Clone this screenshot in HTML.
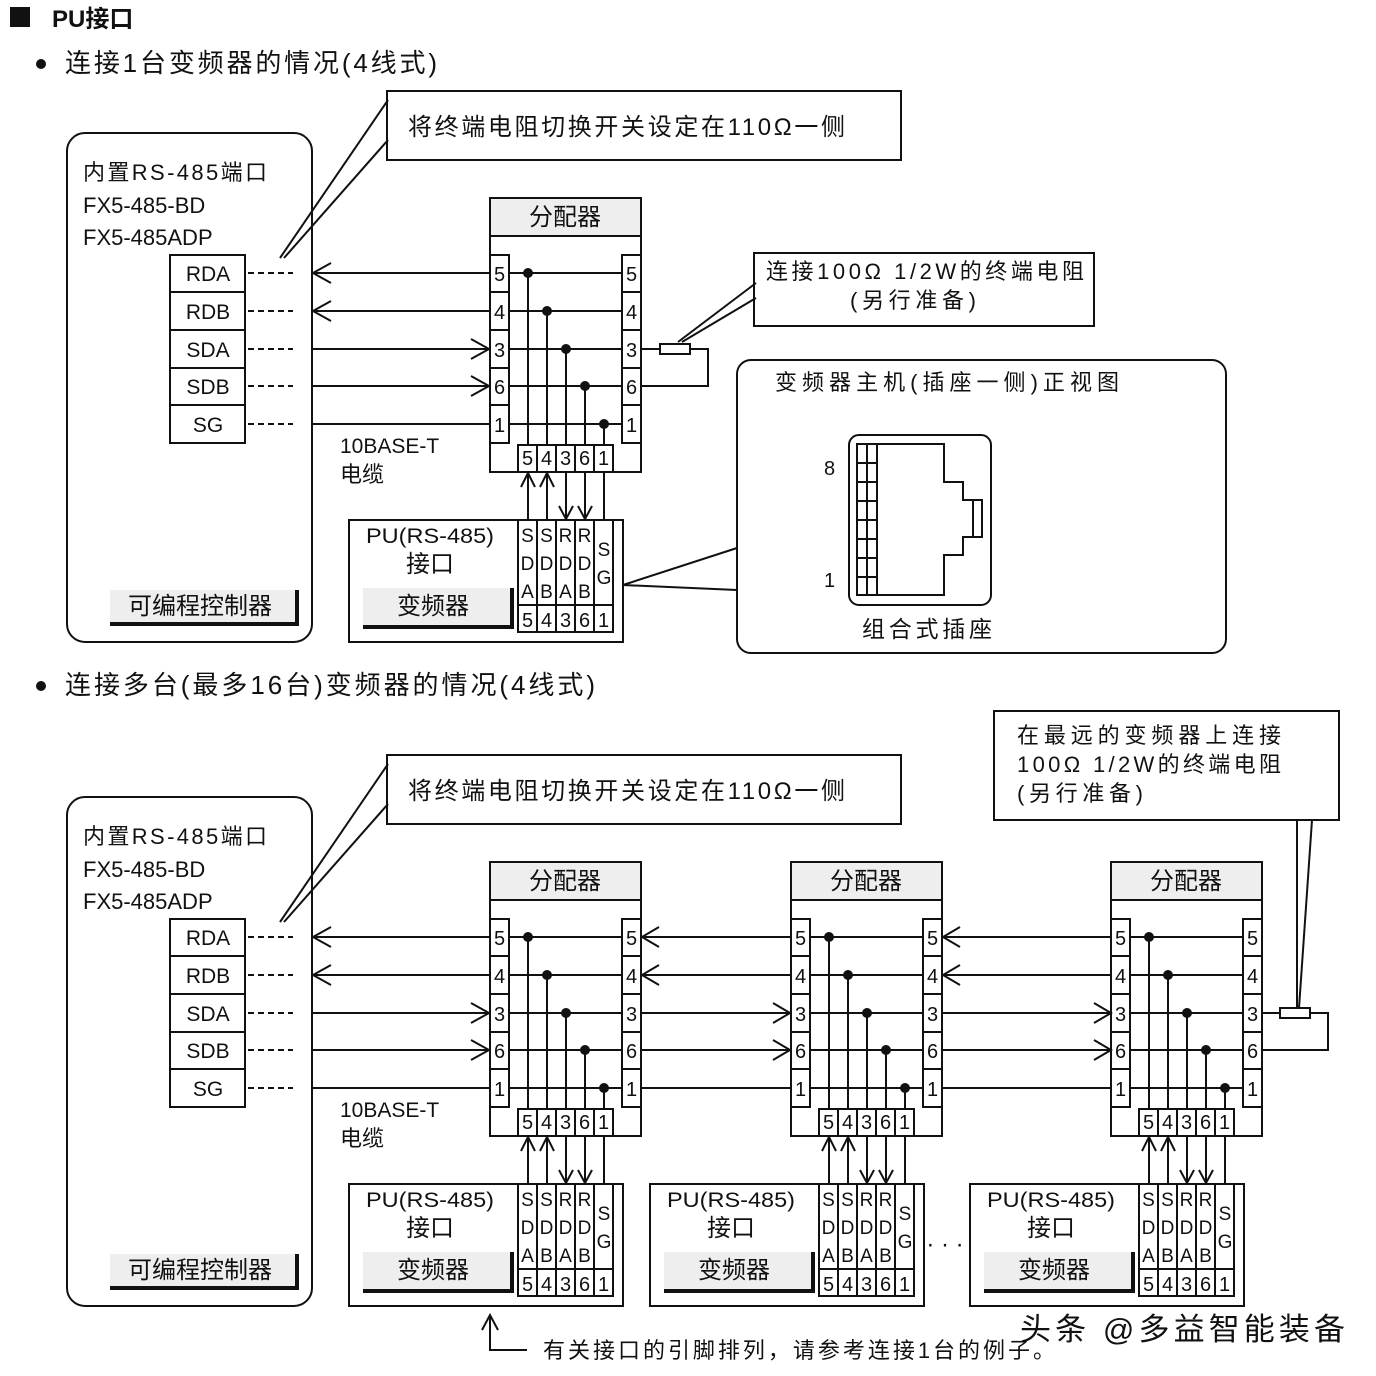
<!DOCTYPE html>
<html><head><meta charset="utf-8"><style>
html,body{margin:0;padding:0;background:#fff}
svg{display:block}
text{font-family:"Liberation Sans","Noto Sans CJK SC",sans-serif;fill:#111}
</style></head><body>
<svg width="1376" height="1376" viewBox="0 0 1376 1376" xmlns="http://www.w3.org/2000/svg" stroke="#111" stroke-width="2" fill="none">
<defs>
<g id="wires">
<line x1="312" y1="273" x2="490" y2="273"/><line x1="312" y1="311" x2="490" y2="311"/>
<line x1="312" y1="349" x2="490" y2="349"/><line x1="312" y1="386" x2="490" y2="386"/>
<line x1="312" y1="424" x2="490" y2="424"/>
<polyline points="331,263 313,273 331,283"/><polyline points="331,301 313,311 331,321"/>
<polyline points="471,339 489,349 471,359"/><polyline points="471,376 489,386 471,396"/>
</g>
<g id="distshape">
<rect x="0" y="0" width="151" height="274" fill="#fff"/>
<rect x="0" y="0" width="151" height="38" fill="#eee"/>
<rect x="0" y="57" width="19" height="188"/><rect x="132" y="57" width="19" height="188"/>
<path d="M0 94h19M0 132h19M0 170h19M0 207h19M132 94h19M132 132h19M132 170h19M132 207h19"/>
<path d="M19 75h113M19 113h113M19 151h113M19 188h113M19 226h113"/>
<path d="M38 75V247M57 113V247M76 151V247M95 188V247M114 226V247"/>
<rect x="28" y="247" width="95" height="27"/>
<path d="M47 247v27M66 247v27M85 247v27M104 247v27"/>
<g fill="#111" stroke="none">
<circle cx="38" cy="75" r="5"/><circle cx="57" cy="113" r="5"/><circle cx="76" cy="151" r="5"/><circle cx="95" cy="188" r="5"/><circle cx="114" cy="226" r="5"/></g>
</g>
<g id="pushape">
<rect x="0" y="0" width="274" height="122" fill="#fff"/>
<rect x="169" y="0" width="95" height="112"/>
<path d="M169 85h95M188 0v112M207 0v112M226 0v112M245 0v112"/>
<rect x="14" y="68" width="149" height="40" fill="#eee" stroke="none"/>
<path d="M14 107h151M163 68v41" stroke-width="4"/>
<path d="M179 -48V0M198 -48V0M217 -48V0M236 -48V0M255 -48V0"/>
<polyline points="172,-33 179,-47 186,-33"/><polyline points="191,-33 198,-47 205,-33"/>
<polyline points="210,-14 217,-1 224,-14"/><polyline points="229,-14 236,-1 243,-14"/>
</g>
<g id="plcshape">
<rect x="0" y="0" width="245" height="509" rx="18"/>
<rect x="103" y="122" width="75" height="188"/>
<path d="M103 159h75M103 197h75M103 235h75M103 272h75"/>
<path d="M181 140h45M181 178h45M181 216h45M181 253h45M181 291h45" stroke-dasharray="6,4"/>
<rect x="43" y="457" width="187" height="35" fill="#eee" stroke="none"/>
<path d="M43 491h189M230 457v35" stroke-width="4"/>
</g>
<g id="disttext" stroke="none">
<text x="565" y="225" text-anchor="middle" font-size="24">分配器</text>
<text x="499.5 499.5 499.5 499.5 499.5" y="281 319 357 394 432" text-anchor="middle" font-size="20">54361</text>
<text x="631.5 631.5 631.5 631.5 631.5" y="281 319 357 394 432" text-anchor="middle" font-size="20">54361</text>
<text x="527.5 546.5 565.5 584.5 603.5" y="465" text-anchor="middle" font-size="20">54361</text>
<text x="366" y="543" font-size="21" textLength="128" lengthAdjust="spacingAndGlyphs">PU(RS-485)</text>
<text x="430" y="572" text-anchor="middle" font-size="24">接口</text>
<text x="433" y="614" text-anchor="middle" font-size="24">变频器</text>
<text x="527.5 546.5 565.5 584.5" y="542" text-anchor="middle" font-size="19">SSRR</text>
<text x="527.5 546.5 565.5 584.5" y="570" text-anchor="middle" font-size="19">DDDD</text>
<text x="527.5 546.5 565.5 584.5" y="598" text-anchor="middle" font-size="19">ABAB</text>
<text x="604" y="556" text-anchor="middle" font-size="19">S</text>
<text x="604" y="584" text-anchor="middle" font-size="19">G</text>
<text x="527.5 546.5 565.5 584.5 603.5" y="627" text-anchor="middle" font-size="20">54361</text>
</g>
</defs>

<rect x="10" y="7" width="20" height="20" fill="#111" stroke="none"/>
<text x="52" y="27" font-size="24" font-weight="bold" stroke="none">PU接口</text>
<circle cx="41" cy="64" r="5" fill="#111" stroke="none"/>
<text x="65" y="72" font-size="26" stroke="none" textLength="372" lengthAdjust="spacing">连接1台变频器的情况(4线式)</text>

<g id="sec">
<rect x="387" y="91" width="514" height="69" fill="#fff"/>
<line x1="388" y1="100" x2="280" y2="258"/><line x1="388" y1="140" x2="284" y2="258"/>
<use href="#wires"/>
<g transform="translate(67,133)"><use href="#plcshape"/></g>
<g transform="translate(490,198)"><use href="#distshape"/></g>
<g transform="translate(349,520)"><use href="#pushape"/></g>
</g>
<g stroke="none" font-size="23">
<text x="408" y="135" font-size="24" textLength="437" lengthAdjust="spacing">将终端电阻切换开关设定在110Ω一侧</text>
<text x="83" y="180" font-size="22" textLength="184" lengthAdjust="spacing">内置RS-485端口</text>
<text x="83" y="213" font-size="22">FX5-485-BD</text>
<text x="83" y="245" font-size="22">FX5-485ADP</text>
<text x="208" y="281" text-anchor="middle" font-size="21">RDA</text>
<text x="208" y="319" text-anchor="middle" font-size="21">RDB</text>
<text x="208" y="357" text-anchor="middle" font-size="21">SDA</text>
<text x="208" y="394" text-anchor="middle" font-size="21">SDB</text>
<text x="208" y="432" text-anchor="middle" font-size="21">SG</text>
<text x="200" y="614" text-anchor="middle" font-size="24">可编程控制器</text>
<text x="340" y="453" font-size="21">10BASE-T</text>
<text x="340" y="482" font-size="22">电缆</text>
</g>
<use href="#disttext"/>

<path d="M641 349h19M690 349h18v37h-67"/>
<rect x="660" y="344" width="30" height="10"/>
<rect x="754" y="253" width="340" height="73"/>
<line x1="756" y1="283" x2="678" y2="342"/><line x1="756" y1="298" x2="682" y2="342"/>
<g stroke="none" font-size="22">
<text x="766" y="279" textLength="318" lengthAdjust="spacing">连接100Ω  1/2W的终端电阻</text>
<text x="850" y="308" textLength="126" lengthAdjust="spacing">(另行准备)</text>
</g>

<rect x="737" y="360" width="489" height="293" rx="14"/>
<line x1="623" y1="585" x2="737" y2="548"/><line x1="623" y1="585" x2="737" y2="590"/>
<rect x="849" y="435" width="142" height="170" rx="10"/>
<rect x="857" y="444" width="20" height="151"/>
<path d="M857 463h20M857 482h20M857 501h20M857 520h20M857 539h20M857 558h20M857 577h20M867 444v151"/>
<polyline points="877,444 944,444 944,482 963,482 963,500 973,500 973,537 963,537 963,555 944,555 944,595 877,595"/>
<rect x="973" y="500" width="9" height="37"/>
<g stroke="none">
<text x="775" y="390" font-size="22" textLength="344" lengthAdjust="spacing">变频器主机(插座一侧)正视图</text>
<text x="824" y="475" font-size="20">8</text>
<text x="824" y="587" font-size="20">1</text>
<text x="862" y="637" font-size="23" textLength="130" lengthAdjust="spacing">组合式插座</text>
</g>

<circle cx="41" cy="686" r="5" fill="#111" stroke="none"/>
<text x="65" y="694" font-size="26" stroke="none" textLength="530" lengthAdjust="spacing">连接多台(最多16台)变频器的情况(4线式)</text>

<g transform="translate(0,664)"><use href="#sec"/>
<g transform="translate(301,0)"><use href="#distshape" transform="translate(490,198)"/><use href="#pushape" transform="translate(349,520)"/></g>
<g transform="translate(621,0)"><use href="#distshape" transform="translate(490,198)"/><use href="#pushape" transform="translate(349,520)"/></g>
<path d="M641 273h150M641 311h150M641 349h150M641 386h150M641 424h150"/>
<path d="M942 273h170M942 311h170M942 349h170M942 386h170M942 424h170"/>
<polyline points="659,263 642,273 659,283"/><polyline points="659,301 642,311 659,321"/>
<polyline points="773,339 790,349 773,359"/><polyline points="773,376 790,386 773,396"/>
<polyline points="960,263 943,273 960,283"/><polyline points="960,301 943,311 960,321"/>
<polyline points="1094,339 1111,349 1094,359"/><polyline points="1094,376 1111,386 1094,396"/>
<path d="M1262 349h18M1310 349h18v37h-66"/>
<rect x="1280" y="344" width="30" height="10"/>
</g>

<g stroke="none" font-size="23">
<text x="408" y="799" font-size="24" textLength="437" lengthAdjust="spacing">将终端电阻切换开关设定在110Ω一侧</text>
<text x="83" y="844" font-size="22" textLength="184" lengthAdjust="spacing">内置RS-485端口</text>
<text x="83" y="877" font-size="22">FX5-485-BD</text>
<text x="83" y="909" font-size="22">FX5-485ADP</text>
<text x="208" y="945" text-anchor="middle" font-size="21">RDA</text>
<text x="208" y="983" text-anchor="middle" font-size="21">RDB</text>
<text x="208" y="1021" text-anchor="middle" font-size="21">SDA</text>
<text x="208" y="1058" text-anchor="middle" font-size="21">SDB</text>
<text x="208" y="1096" text-anchor="middle" font-size="21">SG</text>
<text x="200" y="1278" text-anchor="middle" font-size="24">可编程控制器</text>
<text x="340" y="1117" font-size="21">10BASE-T</text>
<text x="340" y="1146" font-size="22">电缆</text>
</g>

<use href="#disttext" transform="translate(0,664)"/>
<use href="#disttext" transform="translate(301,664)"/>
<use href="#disttext" transform="translate(621,664)"/>
<text x="945" y="1252" text-anchor="middle" font-size="24" stroke="none">· · ·</text>

<rect x="994" y="711" width="345" height="109"/>
<line x1="1297" y1="820" x2="1297" y2="1008"/><line x1="1312" y1="820" x2="1299" y2="1008"/>
<g stroke="none" font-size="22">
<text x="1017" y="743" textLength="264" lengthAdjust="spacing">在最远的变频器上连接</text>
<text x="1017" y="772" textLength="264" lengthAdjust="spacing">100Ω  1/2W的终端电阻</text>
<text x="1017" y="801" textLength="126" lengthAdjust="spacing">(另行准备)</text>
</g>

<path d="M490 1316V1350h37"/>
<polyline points="482,1330 490,1315 498,1330"/>
<text x="543" y="1358" font-size="22" stroke="none" textLength="512" lengthAdjust="spacing">有关接口的引脚排列，请参考连接1台的例子。</text>
<text x="1020" y="1340" font-size="31" stroke="none" fill="#333" textLength="325" lengthAdjust="spacing">头条 @多益智能装备</text>
</svg>
</body></html>
